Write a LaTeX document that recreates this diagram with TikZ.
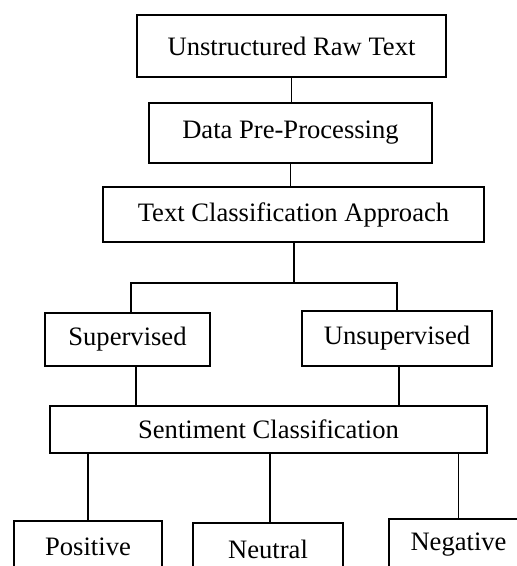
\documentclass[tikz,border=0pt]{standalone}
\usepackage{fontspec}
\setmainfont{Liberation Serif}
\usepackage{tikz}

\begin{document}
\begin{tikzpicture}[x=0.5pt, y=-0.5pt, line width=0.8pt,
  stage/.style={draw, inner sep=0pt, font=\fontsize{13.3}{16}\selectfont}]
\clip (0,0) rectangle (517,566);
\node[stage, minimum width=154.5pt, minimum height=31pt] (raw) at (291.5,46) {Unstructured Raw Text\hspace{8pt}};
\node[stage, minimum width=141.5pt, minimum height=30pt] (prep) at (290.5,133) {Data Pre-Processing};
\node[stage, minimum width=190.5pt, minimum height=27.5pt] (appr) at (293.5,214.5) {Text Classification Approach};
\node[stage, minimum width=82.5pt, minimum height=26.5pt] (sup) at (127.5,339.5) {Supervised};
\node[stage, minimum width=95pt, minimum height=27.5pt] (unsup) at (397,338.5) {Unsupervised};
\node[stage, minimum width=218.5pt, minimum height=23.5pt] (senti) at (268.5,429.5) {Sentiment Classification};
\node[stage, minimum width=74pt, minimum height=26pt] (pos) at (88,547) {Positive};
\node[stage, minimum width=75pt, minimum height=26pt] (neu) at (268,549) {Neutral};
\node[stage, minimum width=69.5pt, minimum height=26pt] (neg) at (458.5,545) {Negative};
\coordinate (fork) at (294,283);
\draw (raw.south) -- (raw.south |- prep.north);
\draw (prep.south) -- (prep.south |- appr.north);
\draw (fork |- appr.south) -- (fork);
\draw ([xshift=1.75pt]sup.north) |- (fork) -| (unsup.north);
\draw ([xshift=4.25pt]sup.south) -- ([xshift=4.25pt]sup.south |- senti.north);
\draw ([xshift=1pt]unsup.south) -- ([xshift=1pt]unsup.south |- senti.north);
\draw (pos.north |- senti.south) -- (pos.north);
\draw ([xshift=1pt]neu.north |- senti.south) -- ([xshift=1pt]neu.north);
\draw (neg.north |- senti.south) -- (neg.north);
\end{tikzpicture}
\end{document}
